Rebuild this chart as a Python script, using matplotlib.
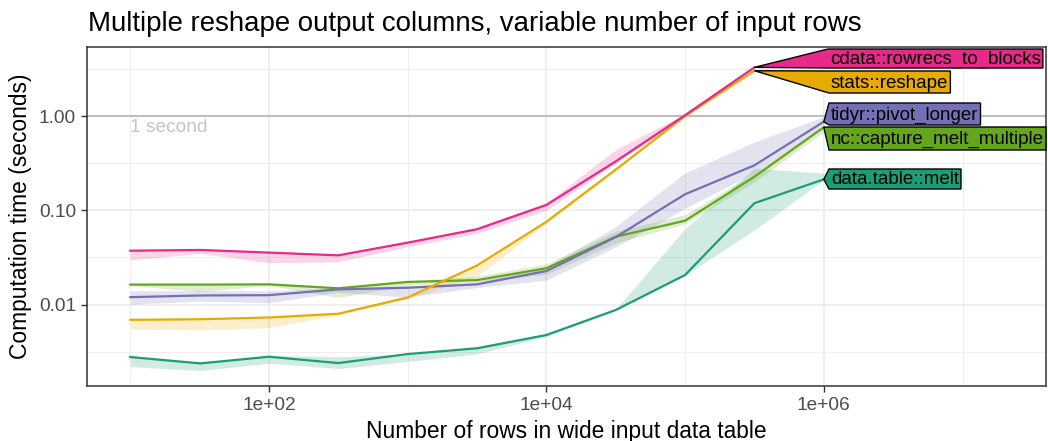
import matplotlib
matplotlib.use("Agg")
import matplotlib.pyplot as plt
import matplotlib.transforms as mtransforms
from matplotlib.patches import Polygon
import numpy as np

plt.rcParams['font.family'] = ['Liberation Sans', 'DejaVu Sans']

# number of rows in the wide input table
rows = [10, 32, 100, 316, 1000, 3162, 10000, 31623, 100000, 316228, 1000000]

# median / min / max seconds per method
cdata_med = [0.0373, 0.0380, 0.0356, 0.0333, 0.0454, 0.063, 0.114, 0.33, 1.02, 3.28]
cdata_lo = [0.0297, 0.0350, 0.0278, 0.0285, 0.0410, 0.057, 0.100, 0.317, 0.98, 3.20]
cdata_hi = [0.0375, 0.0385, 0.0360, 0.0336, 0.0460, 0.066, 0.120, 0.44, 1.05, 3.40]

stats_med = [0.0069, 0.0070, 0.0073, 0.0080, 0.0119, 0.026, 0.0756, 0.27, 1.00, 3.02]
stats_lo = [0.0055, 0.0054, 0.0057, 0.0078, 0.0115, 0.020, 0.0720, 0.26, 0.98, 2.95]
stats_hi = [0.0070, 0.0071, 0.0074, 0.0081, 0.0121, 0.027, 0.0780, 0.28, 1.02, 3.10]

tidyr_med = [0.0120, 0.0125, 0.0126, 0.0145, 0.0151, 0.0164, 0.0227, 0.052, 0.148, 0.30, 0.87]
tidyr_lo = [0.0101, 0.0109, 0.0105, 0.0135, 0.0120, 0.0152, 0.0182, 0.041, 0.105, 0.25, 0.77]
tidyr_hi = [0.0140, 0.0140, 0.0140, 0.0150, 0.0157, 0.0175, 0.0253, 0.067, 0.250, 0.53, 0.98]

nc_med = [0.0163, 0.0163, 0.0164, 0.0149, 0.0174, 0.0182, 0.0243, 0.0525, 0.0776, 0.227, 0.76]
nc_lo = [0.0160, 0.0137, 0.0160, 0.0119, 0.0160, 0.0175, 0.0210, 0.0450, 0.0720, 0.200, 0.68]
nc_hi = [0.0165, 0.0165, 0.0166, 0.0155, 0.0178, 0.0200, 0.0270, 0.0600, 0.0900, 0.250, 0.80]

dt_med = [0.00278, 0.00238, 0.00280, 0.00240, 0.00299, 0.00344, 0.00476, 0.00877, 0.0206, 0.119, 0.213]
dt_lo = [0.0022, 0.0020, 0.0024, 0.0021, 0.0025, 0.0030, 0.0046, 0.0087, 0.0205, 0.062, 0.210]
dt_hi = [0.0028, 0.0024, 0.0029, 0.0028, 0.0030, 0.0036, 0.0049, 0.0089, 0.064, 0.279, 0.248]

W, H = 1048, 441
fig = plt.figure(figsize=(W / 100, H / 100), dpi=100)
L, R, T, B = 87, 1046, 47, 386
ax = fig.add_axes([L / W, 1 - B / H, (R - L) / W, (B - T) / H])
ax.set_xscale('log')
ax.set_yscale('log')
ax.set_xlim(10 ** 0.688, 10 ** 7.602)
ax.set_ylim(10 ** -2.863, 10 ** 0.7317)

# grid like theme_bw
for v in [1e2, 1e4, 1e6]:
    ax.axvline(v, color='#ebebeb', lw=1.1, zorder=0)
for v in [1e1, 1e3, 1e5, 1e7]:
    ax.axvline(v, color='#ebebeb', lw=0.55, zorder=0)
for v in [0.01, 0.1, 1]:
    ax.axhline(v, color='#ebebeb', lw=1.1, zorder=0)
for v in [10 ** -2.5, 10 ** -1.5, 10 ** -0.5, 10 ** 0.5]:
    ax.axhline(v, color='#ebebeb', lw=0.55, zorder=0)

ax.axhline(1, color='#bebebe', lw=1.5, zorder=1)
ax.text(rows[0], 0.93, '1 second', color='#c4c4c4', fontsize=13.8, va='top', ha='left')

series = [
    ('data.table::melt', '#1b9e77', dt_med, dt_lo, dt_hi),
    ('nc::capture_melt_multiple', '#66a61e', nc_med, nc_lo, nc_hi),
    ('tidyr::pivot_longer', '#7570b3', tidyr_med, tidyr_lo, tidyr_hi),
    ('stats::reshape', '#e6ab02', stats_med, stats_lo, stats_hi),
    ('cdata::rowrecs_to_blocks', '#e7298a', cdata_med, cdata_lo, cdata_hi),
]
for name, col, med, lo, hi in series:
    n = len(med)
    ax.fill_between(rows[:n], lo, hi, color=col, alpha=0.2, lw=0, zorder=2)
for name, col, med, lo, hi in series:
    n = len(med)
    ax.plot(rows[:n], med, color=col, lw=1.6, zorder=3)

ax.set_xticks([1e2, 1e4, 1e6])
ax.set_xticklabels(['1e+02', '1e+04', '1e+06'])
ax.set_yticks([0.01, 0.1, 1])
ax.set_yticklabels(['0.01', '0.10', '1.00'])
ax.minorticks_off()
ax.tick_params(length=4, width=1, color='#333333', labelcolor='#4d4d4d', labelsize=13.8, pad=4)
for s in ax.spines.values():
    s.set_color('#333333')
    s.set_linewidth(1.1)

ax.set_xlabel('Number of rows in wide input data table', fontsize=16.4, labelpad=4)
ax.set_ylabel('Computation time (seconds)', fontsize=16.4, labelpad=5)
fig.text(88 / W, 1 - 31 / H, 'Multiple reshape output columns, variable number of input rows',
         fontsize=19.9, va='baseline', ha='left')

# direct labels: polygon boxes pointing at the last point
ident = mtransforms.IdentityTransform()
fig.canvas.draw()
renderer = fig.canvas.get_renderer()


def tag(name, col, med, top, bottom, left):
    n = len(med)
    px, py = ax.transData.transform((rows[n - 1], med[n - 1]))
    t = ax.text(left + 2, H - (top + bottom) / 2 - 1, name, transform=ident, fontsize=13.5,
                va='center', ha='left', color='black', zorder=6, clip_on=False)
    w = t.get_window_extent(renderer).width
    right = left + w + 4
    pts = [(px, py), (left, H - top), (right, H - top), (right, H - bottom), (left, H - bottom)]
    ax.add_patch(Polygon(pts, closed=True, transform=ident, facecolor=col, edgecolor='black',
                         lw=1.0, zorder=5, clip_on=False))


tag('cdata::rowrecs_to_blocks', '#e7298a', cdata_med, 49, 68, 828)
tag('stats::reshape', '#e6ab02', stats_med, 71, 93, 829)
tag('tidyr::pivot_longer', '#7570b3', tidyr_med, 103, 125, 829)
tag('nc::capture_melt_multiple', '#66a61e', nc_med, 127, 150, 829)
tag('data.table::melt', '#1b9e77', dt_med, 169, 189, 829)

fig.savefig('out.png', dpi=100)
